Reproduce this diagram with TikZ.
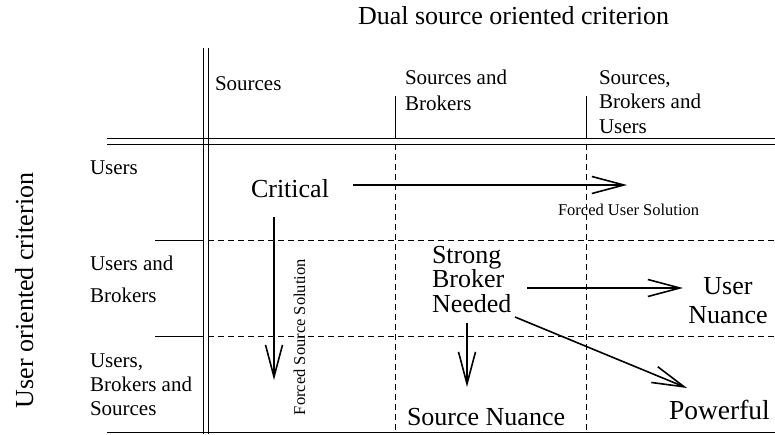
\documentclass[tikz,border=0pt]{standalone}
\usepackage{fontspec}
\setmainfont{Liberation Serif}
\usetikzlibrary{arrows.meta}
\newcommand\fA{\fontsize{21}{25}\selectfont}
\newcommand\fB{\fontsize{26}{30}\selectfont}
\newcommand\fC{\fontsize{16.5}{19}\selectfont}
\newcommand\stk[2]{\vtop{\baselineskip=#1\lineskiplimit=-100pt\lineskip=0pt #2}}
\newcommand\lne[1]{\hbox{#1}}
\newcommand\lnc[1]{\hbox to 0pt{\hss#1\hss}}
\begin{document}
\begin{tikzpicture}[x=1pt,y=-1pt,
  gridline/.style={line width=0.8pt},
  dgrid/.style={line width=0.8pt, dash pattern=on 6pt off 4pt},
  arr/.style={line width=1.6pt, line join=miter, -{Straight Barb[length=32pt,width=17pt,line width=1.6pt]}},
  lbl/.style={anchor=base west, inner sep=0pt, outer sep=0pt}]
\useasboundingbox (0,0) rectangle (775,434);
% grid
\draw[gridline] (203,48) -- (203,434);
\draw[gridline] (208,48) -- (208,434);
\draw[gridline] (107,138) -- (775,138);
\draw[gridline] (107,144) -- (775,144);
\draw[gridline] (107,432) -- (775,432);
\draw[gridline] (395,96) -- (395,138);
\draw[gridline] (586,96) -- (586,138);
\draw[dgrid] (395,144) -- (395,432);
\draw[dgrid] (586,144) -- (586,432);
\draw[gridline] (155,240) -- (203,240);
\draw[gridline] (155,336) -- (203,336);
\draw[dgrid] (208,240) -- (775,240);
\draw[dgrid] (208,336) -- (775,336);
% titles
\node[lbl] (dual) at (358,24) {\fB Dual source oriented criterion};
\node[lbl, rotate=90] (user) at (33,408) {\fB User oriented criterion};
% column headers
\node[lbl] (colS) at (215,90) {\fA Sources};
\node[lbl] (colSB) at (405,84) {\fA\stk{26pt}{\lne{Sources and}\lne{Brokers}}};
\node[lbl] (colSBU) at (599,84) {\fA\stk{24.5pt}{\lne{Sources,}\lne{Brokers and}\lne{Users}}};
% row headers
\node[lbl] (rowU) at (90,174) {\fA Users};
\node[lbl] (rowUB) at (90,270) {\fA\stk{32pt}{\lne{Users and}\lne{Brokers}}};
\node[lbl] (rowUBS) at (90,367) {\fA\stk{24pt}{\lne{Users,}\lne{Brokers and}\lne{Sources}}};
% cells
\node[lbl] (crit) at (251,197) {\fB Critical};
\node[lbl] (fus) at (558,215) {\fC Forced User Solution};
\node[lbl, rotate=90] (fss) at (305,415) {\fC Forced Source Solution};
\node[lbl] (sbn) at (432,263) {\fB\stk{24.5pt}{\lne{Strong}\lne{Broker}\lne{Needed}}};
\node[anchor=base, inner sep=0pt] (un) at (728,294) {\fB\stk{29pt}{\lnc{User}\lnc{Nuance}}};
\node[lbl] (sn) at (407,425) {\fB Source Nuance};
\node[lbl] (pow) at (669,419) {\fontsize{27.5}{31}\selectfont Powerful};
% arrow ends
\coordinate (critE) at (353,185);
\coordinate (fusT) at (627,185);
\coordinate (critS) at (274,217);
\coordinate (fssT) at (274,380);
\coordinate (sbnE) at (527,288);
\coordinate (unT) at (683,288);
\coordinate (sbnS) at (467,323);
\coordinate (snT) at (467,387);
\coordinate (sbnD) at (515,317);
\coordinate (powT) at (687,388);
\draw[arr] (critE) -- (fusT);
\draw[arr] (critS) -- (fssT);
\draw[arr] (sbnE) -- (unT);
\draw[arr] (sbnS) -- (snT);
\draw[arr] (sbnD) -- (powT);
\end{tikzpicture}
\end{document}
